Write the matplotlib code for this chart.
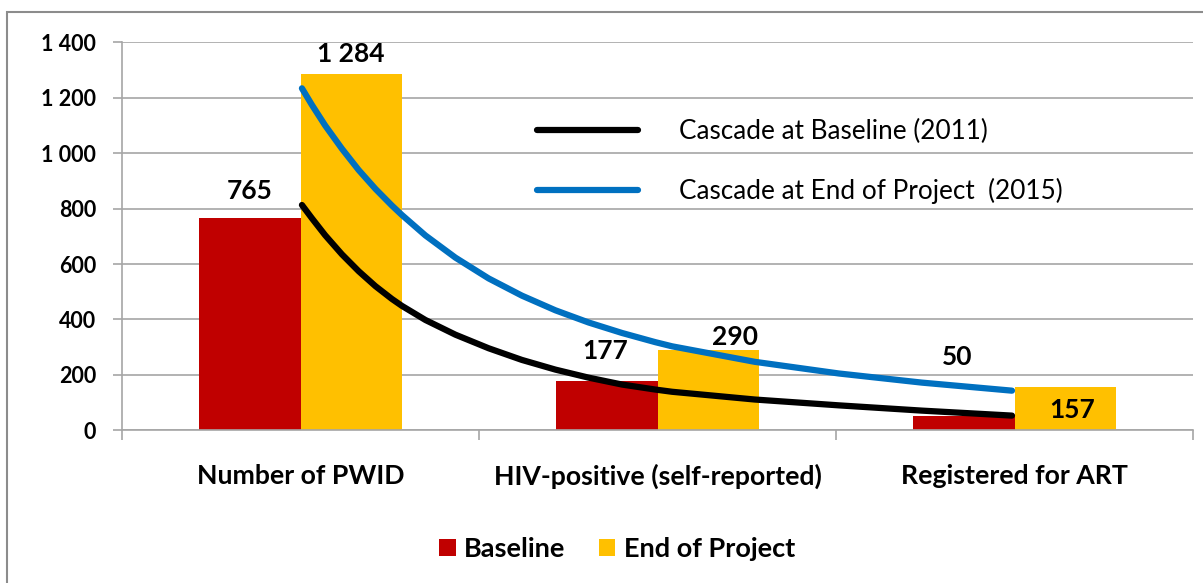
import matplotlib
matplotlib.use("Agg")
import matplotlib.pyplot as plt
from matplotlib.patches import Rectangle

# ---------------- data ----------------
categories = ["Number of PWID", "HIV-positive (self-reported)", "Registered for ART"]
baseline = [765, 177, 50]
end_project = [1284, 290, 157]
baseline_labels = ["765", "177", "50"]
end_labels = ["1 284", "290", "157"]

# cascade curves (category units on x)
curve_x = [0.004, 0.032, 0.069, 0.116, 0.163, 0.210, 0.256, 0.284, 0.350, 0.434,
           0.527, 0.620, 0.714, 0.807, 0.901, 0.994, 1.041, 1.273, 1.508, 1.741, 1.993]
cascade_baseline = [813, 765, 704, 635, 574, 520, 474, 449, 398, 345,
                    296, 254, 219, 190, 165, 147, 139, 111, 90, 71, 53]
cascade_end = [1234, 1174, 1100, 1016, 939, 871, 811, 777, 703, 623,
               548, 486, 433, 389, 351, 318, 303, 247, 205, 172, 143]

y_ticks = [0, 200, 400, 600, 800, 1000, 1200, 1400]
y_tick_labels = ["0", "200", "400", "600", "800", "1 000", "1 200", "1 400"]

series_names = ["Baseline", "End of Project"]
line_names = ["Cascade at Baseline (2011)", "Cascade at End of Project  (2015)"]

# ---------------- style ----------------
RED = "#C00000"
YELLOW = "#FFC000"
BLUE = "#0070C0"
GRID = "#A6A6A6"
FONT = "Lato"

W, H = 1203, 583
fig = plt.figure(figsize=(W / 100, H / 100), dpi=100)
ax = fig.add_axes([122 / W, 1 - 430.3 / H, (1193 - 122) / W, (430.3 - 42.3) / H])

x = list(range(len(categories)))
bw = 0.284
b1 = ax.bar([i - bw / 2 for i in x], baseline, width=bw, color=RED, zorder=2, label=series_names[0])
b2 = ax.bar([i + bw / 2 for i in x], end_project, width=bw, color=YELLOW, zorder=2, label=series_names[1])

l1, = ax.plot(curve_x, cascade_baseline, color="black", lw=4.5, zorder=4,
              solid_capstyle="round", solid_joinstyle="round")
l2, = ax.plot(curve_x, cascade_end, color=BLUE, lw=4.5, zorder=4,
              solid_capstyle="round", solid_joinstyle="round")

# data labels (offsets in points, style only)
base_off = [(0, 20), (-1.5, 21.5), (-5, 43)]
end_off = [(0, 15), (19, 9), (5, -16.5)]
for i in x:
    ax.annotate(baseline_labels[i], (i - bw / 2, baseline[i]), xytext=base_off[i],
                textcoords="offset points", ha="center", va="center",
                fontsize=19, fontweight="bold", family=FONT, zorder=6)
    ax.annotate(end_labels[i], (i + bw / 2, end_project[i]), xytext=end_off[i],
                textcoords="offset points", ha="center", va="center",
                fontsize=19, fontweight="bold", family=FONT, zorder=6)

# axes
ax.set_xlim(-0.5, 2.5)
ax.set_ylim(0, 1400)
ax.set_yticks(y_ticks, y_tick_labels)
ax.yaxis.grid(True, color=GRID, lw=1.2, zorder=0)
ax.set_axisbelow(True)
ax.set_xticks([-0.5, 0.5, 1.5, 2.5])
ax.set_xticklabels([])
ax.set_xticks(x, minor=True)
ax.set_xticklabels(categories, minor=True)
ax.tick_params(axis="x", which="major", length=7, color=GRID, width=1.2, direction="out")
ax.tick_params(axis="x", which="minor", length=0, pad=24)
ax.tick_params(axis="y", length=6.5, color=GRID, width=1.2, pad=12)
for lab in ax.get_xticklabels(minor=True):
    lab.set_fontfamily(FONT)
    lab.set_fontweight("bold")
    lab.set_fontsize(19.2)
for lab in ax.get_yticklabels():
    lab.set_fontfamily(FONT)
    lab.set_fontweight("bold")
    lab.set_fontsize(15.5)
for s in ["top", "right"]:
    ax.spines[s].set_visible(False)
for s in ["left", "bottom"]:
    ax.spines[s].set_color(GRID)
    ax.spines[s].set_linewidth(1.2)

# line legend (inside, no frame)
fig.legend([l1, l2], line_names, loc="upper left",
           bbox_to_anchor=(537 / W, 1 - 119 / H), frameon=False,
           prop={"family": FONT, "size": 18.8}, handlelength=3.85, handletextpad=1.6,
           labelspacing=1.3, borderpad=0, borderaxespad=0)

# bar legend (bottom)
fig.legend([b1, b2], series_names, loc="center",
           bbox_to_anchor=(617 / W, 1 - 549 / H), ncol=2, frameon=False,
           prop={"family": FONT, "size": 19.5, "weight": "bold"},
           handlelength=0.6, handleheight=0.6, handletextpad=0.3,
           columnspacing=1.26, borderpad=0, borderaxespad=0)

# outer border
fig.patches.append(Rectangle((7 / W, -0.1), 1.2, 1.1 - 12 / H,
                             transform=fig.transFigure, fill=False,
                             edgecolor="#8C8C8C", lw=1.5, zorder=0))

fig.savefig("out.png", dpi=100)
